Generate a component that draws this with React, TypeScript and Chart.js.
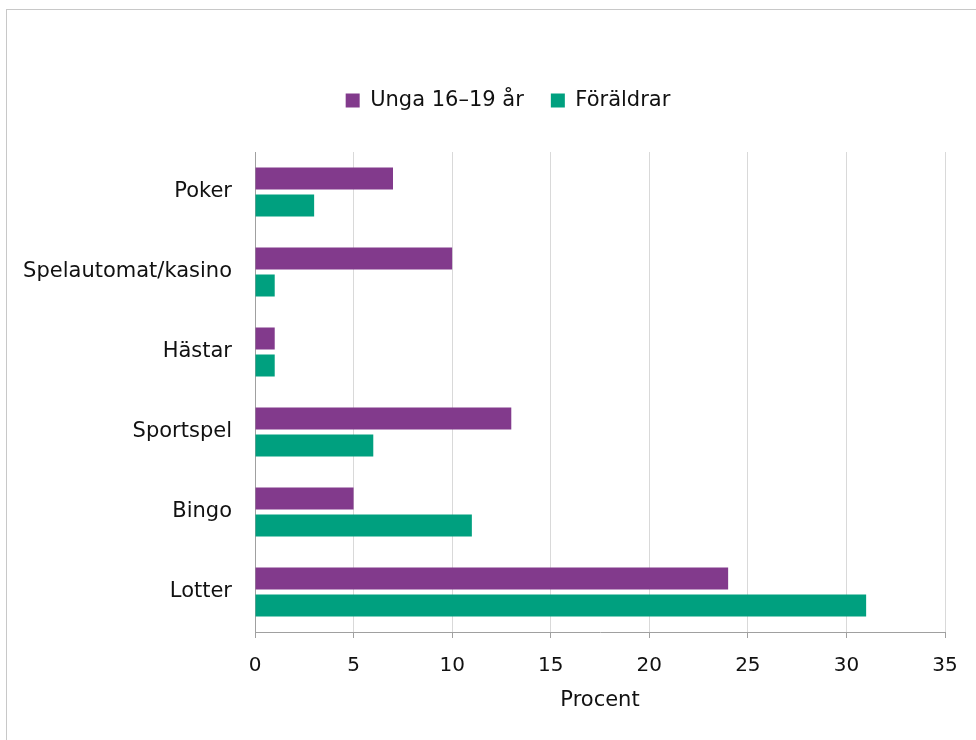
import React, { useEffect, useRef } from 'react';
import { Chart, registerables } from 'chart.js';

Chart.register(...registerables);

const categories = ['Poker', 'Spelautomat/kasino', 'Hästar', 'Sportspel', 'Bingo', 'Lotter'];
const youthValues = [7, 10, 1, 13, 5, 24];
const parentValues = [3, 1, 1, 6, 11, 31];
const seriesNames = ['Unga 16–19 år', 'Föräldrar'];
const seriesColors = ['#823A8C', '#00A07F'];
const xMin = 0;
const xMax = 35;
const xStep = 5;
const axisTitle = 'Procent';

const FONT = "'DejaVu Sans', Verdana, sans-serif";
const TEXT = '#111111';
const AXIS = '#a0a0a0';

const legendSpacing = {
  id: 'legendSpacing',
  beforeInit(chart: any) {
    const legend = chart.legend;
    if (!legend) return;
    const origFit = legend.fit;
    legend.fit = function () {
      origFit.call(this);
      this.height = 89;
    };
  },
  afterLayout(chart: any) {
    if (chart.legend) {
      chart.legend.left += 32;
      chart.legend.right += 32;
    }
  },
};

export default function App() {
  const ref = useRef<HTMLCanvasElement | null>(null);

  useEffect(() => {
    if (!ref.current) return;
    const chart = new Chart(ref.current, {
      type: 'bar',
      data: {
        labels: categories,
        datasets: [
          {
            label: seriesNames[0],
            data: youthValues,
            backgroundColor: seriesColors[0],
            borderWidth: 0,
            categoryPercentage: 0.675,
            barPercentage: 0.815,
          },
          {
            label: seriesNames[1],
            data: parentValues,
            backgroundColor: seriesColors[1],
            borderWidth: 0,
            categoryPercentage: 0.675,
            barPercentage: 0.815,
          },
        ],
      },
      options: {
        indexAxis: 'y',
        responsive: false,
        animation: false,
        devicePixelRatio: 1,
        layout: { padding: { top: 53, left: 0, right: 31, bottom: 23 } },
        plugins: {
          legend: {
            position: 'top',
            labels: {
              boxWidth: 14,
              boxHeight: 14,
              padding: 27,
              color: TEXT,
              font: { family: FONT, size: 21 },
            },
          },
          tooltip: { enabled: false },
        },
        scales: {
          x: {
            min: xMin,
            max: xMax,
            ticks: {
              stepSize: xStep,
              color: TEXT,
              padding: 16,
              font: { family: FONT, size: 20 },
            },
            grid: {
              color: '#d9d9d9',
              lineWidth: 1,
              tickLength: 6,
              tickColor: AXIS,
              drawTicks: true,
            },
            border: { display: true, color: AXIS, width: 1 },
            title: {
              display: true,
              text: axisTitle,
              color: TEXT,
              font: { family: FONT, size: 21 },
              padding: { top: 4, bottom: 4 },
            },
            afterFit: (scale: any) => {
              scale.height = 85;
            },
          },
          y: {
            ticks: {
              color: TEXT,
              padding: 15,
              font: { family: FONT, size: 21 },
            },
            grid: { display: false },
            border: { display: true, color: AXIS, width: 1 },
            afterFit: (scale: any) => {
              scale.width = 248;
            },
          },
        },
      },
      plugins: [legendSpacing],
    });
    return () => chart.destroy();
  }, []);

  return (
    <div style={{ position: 'fixed', inset: 0, overflow: 'hidden', background: '#fff' }}>
      <div
        style={{
          position: 'absolute',
          left: 6,
          top: 9,
          width: 990,
          height: 760,
          border: '1px solid #c8c8c8',
        }}
      >
        <canvas
          ref={ref}
          width={969}
          height={730}
          style={{ position: 'absolute', left: 0, top: 0, width: 969, height: 730 }}
        />
      </div>
    </div>
  );
}
